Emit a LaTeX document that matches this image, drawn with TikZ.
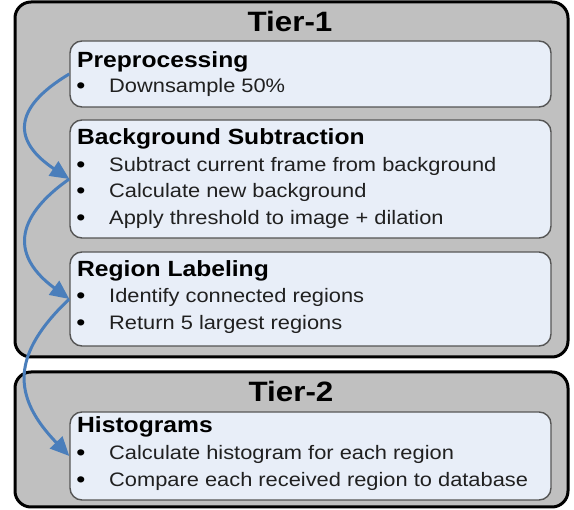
\documentclass[tikz,border=0pt]{standalone}
\usepackage{fontspec}
\setmainfont{Liberation Sans}[FakeStretch=1.12]
\usetikzlibrary{arrows.meta}
\definecolor{tiergray}{HTML}{C0C0C0}
\definecolor{boxfill}{HTML}{E8EEF8}
\definecolor{boxline}{HTML}{555555}
\definecolor{flowblue}{HTML}{4A7EBB}
\definecolor{bodytext}{HTML}{202020}
\begin{document}
\begin{tikzpicture}[x=1pt,y=-1pt,
  tierbox/.style={draw=black, line width=3pt, fill=tiergray, rounded corners=16pt, inner sep=0pt},
  inbox/.style={draw=boxline, line width=1.4pt, fill=boxfill, rounded corners=12pt, inner sep=0pt, minimum width=481pt},
  tiertitle/.style={font=\bfseries\fontsize{28}{32}\selectfont, anchor=base, inner sep=0pt},
  hdr/.style={font=\bfseries\fontsize{22}{26}\selectfont, anchor=base west, inner sep=0pt},
  body/.style={font=\fontsize{19.5}{23}\selectfont, text=bodytext, anchor=base west, inner sep=0pt},
  bul/.style={font=\fontsize{23}{26}\selectfont, anchor=base, inner sep=0pt},
  flow/.style={draw=flowblue, line width=3pt, -{Triangle[length=19pt 0 0,width=17pt 0 0]}}
]
\useasboundingbox (0,0) rectangle (574,510);
% tier boxes
\node[tierbox, minimum width=553pt, minimum height=355pt] (t1) at (291.5,179.5) {};
\node[tierbox, minimum width=553pt, minimum height=135pt] (t2) at (291.5,439.5) {};
\node[tiertitle] (t1title) at (290,32) {Tier-1};
\node[tiertitle] (t2title) at (291,402) {Tier-2};
% inner boxes
\node[inbox, minimum height=66pt] (pre) at (310.5,74) {};
\node[inbox, minimum height=118pt] (bs) at (310.5,179) {};
\node[inbox, minimum height=94pt] (rl) at (310.5,299) {};
\node[inbox, minimum height=88pt] (hist) at (310.5,456) {};
% texts
\node[hdr] (preh) at (77,68) {Preprocessing};
\node[bul] (preb1) at (81,94) {•};
\node[body] (pre1) at (109,93) {Downsample 50\%};
\node[hdr] (bsh) at (77,145) {Background Subtraction};
\node[bul] (bsb1) at (81,173) {•};
\node[body] (bs1) at (109,172) {Subtract current frame from background};
\node[bul] (bsb2) at (81,199) {•};
\node[body] (bs2) at (109,198) {Calculate new background};
\node[bul] (bsb3) at (81,226) {•};
\node[body] (bs3) at (109,225) {Apply threshold to image + dilation};
\node[hdr] (rlh) at (77,277) {Region Labeling};
\node[bul] (rlb1) at (81,304) {•};
\node[body] (rl1) at (109,303) {Identify connected regions};
\node[bul] (rlb2) at (81,331) {•};
\node[body] (rl2) at (109,330) {Return 5 largest regions};
\node[hdr] (histh) at (77,433) {Histograms};
\node[bul] (histb1) at (81,461) {•};
\node[body] (hist1) at (109,460) {Calculate histogram for each region};
\node[bul] (histb2) at (81,488) {•};
\node[body] (hist2) at (109,487) {Compare each received region to database};
% flow arrows
\draw[flow] (pre.west) .. controls +(-57,34) and +(-57,-38) .. (bs.west);
\draw[flow] (bs.west) .. controls +(-57,40) and +(-57,-42) .. (rl.west);
\draw[flow] (rl.west) .. controls +(-58,55) and +(-58,-60) .. (hist.west);
\end{tikzpicture}
\end{document}
